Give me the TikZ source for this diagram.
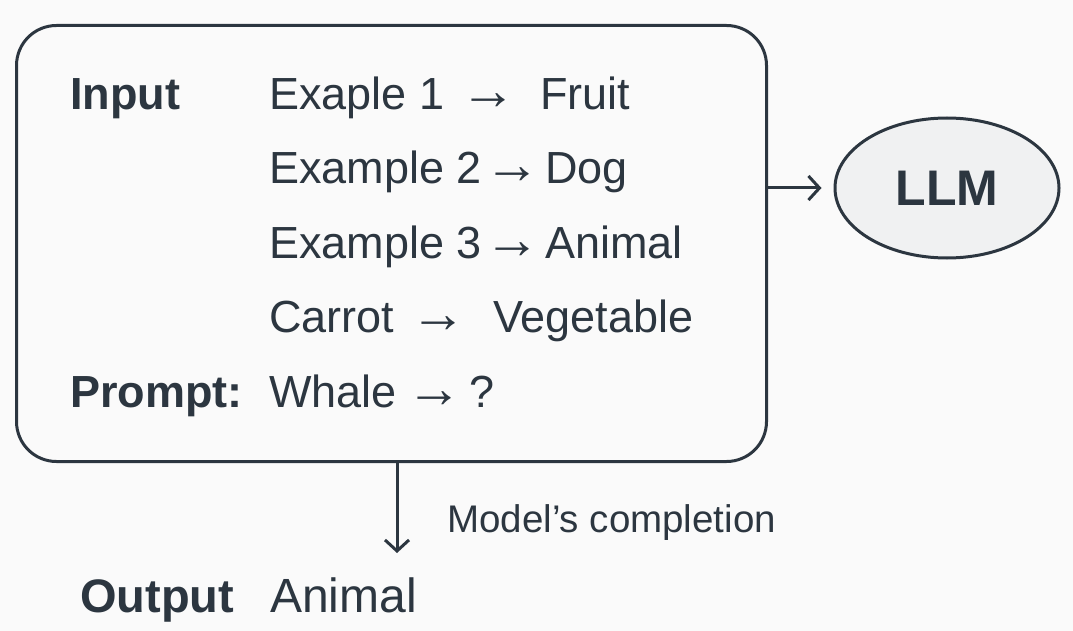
\documentclass[tikz,border=0pt]{standalone}
\usepackage{fontspec}
\setmainfont{Liberation Sans}
\usetikzlibrary{arrows.meta,shapes.geometric}
\definecolor{ink}{RGB}{44,54,64}
\definecolor{bg}{RGB}{250,250,250}
\definecolor{llmfill}{RGB}{240,241,242}
\tikzset{
  txt/.style={anchor=base west,inner sep=0pt,text=ink,font=\fontsize{45}{50}\selectfont},
  btxt/.style={txt,font=\fontsize{45}{50}\selectfont\bfseries},
  arr/.style={txt,font=\fontsize{56}{60}\selectfont},
  conn/.style={draw=ink,line width=3pt,-{Straight Barb[length=11pt,width=24pt,line width=3pt]}}
}
\begin{document}
\begin{tikzpicture}[x=1pt,y=-1pt]
\useasboundingbox (0,0) rectangle (1073,631);
\fill[bg] (0,0) rectangle (1073,631);
% main box
\node[draw=ink,line width=3pt,rounded corners=40pt,fill=bg,minimum width=750pt,minimum height=436pt,inner sep=0pt,anchor=north west] (box) at (15,24) {};
% row 1
\node[btxt] (inp) at (70,110) {Input};
\node[txt] (e1) at (269,110) {Exaple 1};
\node[arr] (a1) at (460,110) {→};
\node[txt] (r1) at (540,110) {Fruit};
% row 2
\node[txt] (e2) at (269,184) {Example 2};
\node[arr] (a2) at (484,184) {→};
\node[txt] (r2) at (545,184) {Dog};
% row 3
\node[txt] (e3) at (269,258) {Example 3};
\node[arr] (a3) at (484,258) {→};
\node[txt] (r3) at (545,258) {Animal};
% row 4
\node[txt] (e4) at (269,332) {Carrot};
\node[arr] (a4) at (410,332) {→};
\node[txt] (r4) at (493,332) {Vegetable};
% row 5
\node[btxt] (pr) at (70,407) {Prompt:};
\node[txt] (e5) at (269,407) {Whale};
\node[arr] (a5) at (406,407) {→};
\node[txt] (r5) at (469,407) {?};
% LLM
\node[draw=ink,line width=3pt,fill=llmfill,ellipse,minimum width=224pt,minimum height=140pt,inner sep=0pt,font=\fontsize{50}{55}\selectfont\bfseries,text=ink] (llm) at (947,188) {LLM};
\draw[conn] (box.east |- llm.west) -- ([xshift=-12pt]llm.west);
% output
\coordinate (down) at (397,553);
\draw[conn] (box.south -| down) -- (down);
\node[txt,font=\fontsize{38.5}{42}\selectfont] (mc) at (447,532) {Model’s completion};
\node[btxt,font=\fontsize{47}{52}\selectfont\bfseries] (out) at (80,612) {Output};
\node[txt,font=\fontsize{48}{52}\selectfont] (ans) at (270,612) {Animal};
\end{tikzpicture}
\end{document}
